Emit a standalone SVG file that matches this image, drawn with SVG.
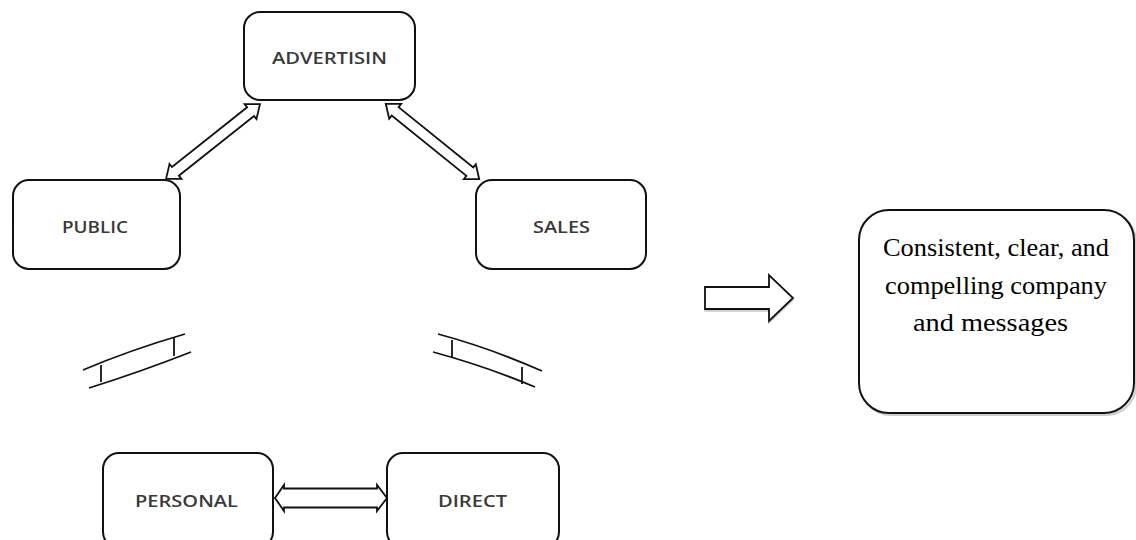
<svg xmlns="http://www.w3.org/2000/svg" width="1136" height="540" viewBox="0 0 1136 540">
<style>
.box{fill:#fff;stroke:#111;stroke-width:2}
.shadow{fill:none;stroke:#ccc;stroke-width:2}
.lbl{font-family:"Open Sans","Liberation Sans",sans-serif;font-size:17px;font-weight:600;fill:#3a3a3a;text-anchor:middle}
.serif{font-family:"Liberation Serif","Times New Roman",serif;font-size:26px;fill:#000;text-anchor:middle}
.arr{fill:#fff;stroke:#111;stroke-width:1.8;stroke-linejoin:miter}
.ln{fill:none;stroke:#111;stroke-width:1.8}
</style>
<defs>
<polygon id="dbl" points="-60,0 -48,-9.5 -48,-5.5 48,-5.5 48,-9.5 60,0 48,9.5 48,5.5 -48,5.5 -48,9.5"/>
</defs>
<g id="connectors">
<use href="#dbl" class="arr" transform="translate(213,141.5) rotate(-38.5)"/>
<use href="#dbl" class="arr" transform="translate(432.5,141.5) rotate(38.9)"/>
<path class="arr" d="M275,498 L284,485 L284,488.5 L377,488.5 L377,485 L387,498 L377,511 L377,507.5 L284,507.5 L284,511 Z"/>
<g id="link-left">
<path class="ln" d="M83,370 Q130,350 185,334"/>
<path class="ln" d="M89,388 Q140,372 191,352"/>
<line class="ln" x1="101" y1="365" x2="101" y2="382"/>
<line class="ln" x1="174" y1="338" x2="174" y2="356"/>
</g>
<g id="link-right">
<path class="ln" d="M438,334 Q490,348 542,371"/>
<path class="ln" d="M433,352 Q485,366 535,387"/>
<line class="ln" x1="452" y1="340" x2="452" y2="357"/>
<line class="ln" x1="522" y1="367" x2="522" y2="384"/>
</g>
<g id="result-arrow">
<path d="M705,289 L769,289 L769,277 L793,300 L769,323 L769,311 L705,311 Z" fill="#ccc" stroke="#ccc" stroke-width="1.5"/>
<path class="arr" d="M705,287 L769,287 L769,275 L793,298 L769,321 L769,309 L705,309 Z"/>
</g>
</g>
<g id="advertisin">
<rect class="box" x="244" y="12" width="171" height="88" rx="16"/>
<text class="lbl" x="329.5" y="64" textLength="115" lengthAdjust="spacingAndGlyphs">ADVERTISIN</text>
</g>
<g id="public">
<rect class="box" x="13" y="180" width="167" height="89" rx="16"/>
<text class="lbl" x="95" y="233" textLength="66" lengthAdjust="spacingAndGlyphs">PUBLIC</text>
</g>
<g id="sales">
<rect class="box" x="476" y="180" width="170" height="89" rx="16"/>
<text class="lbl" x="561.5" y="233" textLength="57" lengthAdjust="spacingAndGlyphs">SALES</text>
</g>
<g id="personal">
<rect class="box" x="103" y="453" width="170" height="95" rx="16"/>
<text class="lbl" x="186.5" y="507" textLength="103" lengthAdjust="spacingAndGlyphs">PERSONAL</text>
</g>
<g id="direct">
<rect class="box" x="387" y="453" width="172" height="95" rx="16"/>
<text class="lbl" x="472.5" y="507" textLength="69" lengthAdjust="spacingAndGlyphs">DIRECT</text>
</g>
<g id="result">
<rect class="shadow" x="861" y="212" width="275" height="203" rx="30"/>
<rect class="box" x="859" y="210" width="275" height="203" rx="30"/>
<text class="serif" x="996" y="256" textLength="226" lengthAdjust="spacingAndGlyphs">Consistent, clear, and</text>
<text class="serif" x="996" y="294" textLength="222" lengthAdjust="spacingAndGlyphs">compelling company</text>
<text class="serif" x="990.5" y="331" textLength="155" lengthAdjust="spacingAndGlyphs">and messages</text>
</g>
</svg>
